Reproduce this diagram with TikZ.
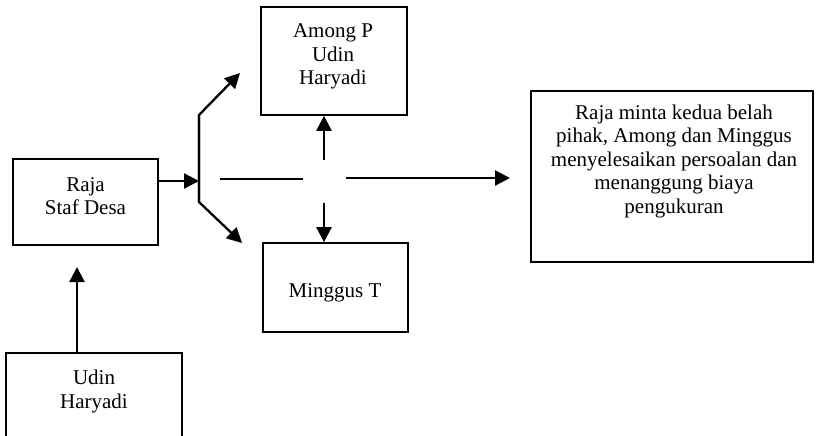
\documentclass[tikz,border=0pt]{standalone}
\usepackage{fontspec}
\setmainfont{Liberation Serif}
\usetikzlibrary{arrows.meta}
\begin{document}
\begin{tikzpicture}[x=1pt,y=-1pt]
\tikzset{
  box/.style={draw, line width=1.6pt, inner sep=0pt},
  % anchored on the baseline of the last line
  txt/.style={align=center, anchor=base, inner sep=0pt,
    font=\fontsize{21}{23.5}\selectfont},
  arr/.style={line width=2.3pt, line join=miter,
    -{Triangle[length=15pt,width=15pt]}},
  ln/.style={line width=2.3pt},
}
\useasboundingbox (0,0) rectangle (816,436);
\clip (0,0) rectangle (816,436);

% boxes
\node[box, minimum width=145pt, minimum height=86pt]  (raja)    at (85.5,202)   {};
\node[box, minimum width=176pt, minimum height=100pt] (udin)    at (94,403)     {};
\node[box, minimum width=146pt, minimum height=108pt] (among)   at (334,61)     {};
\node[box, minimum width=145pt, minimum height=89pt]  (minggus) at (335.5,287.5) {};
\node[box, minimum width=282pt, minimum height=171pt] (hasil)   at (672,176.5)  {};

% box texts
\node[txt] (rajaT)    at (85.5,214.5) {Raja\\Staf Desa};
\node[txt] (udinT)    at (94,408)     {Udin\\Haryadi};
\node[txt] (amongT)   at (333,84.5)   {Among P\\Udin\\Haryadi};
\node[txt] (minggusT) at (335,297.5)  {Minggus T};
\node[txt] (hasilT)   at (674,213)    {Raja minta kedua belah\\pihak, Among dan Minggus\\menyelesaikan persoalan dan\\menanggung biaya\\pengukuran};

% junction points
\coordinate (jn)   at (199,181);
\coordinate (bt)   at (199,115);
\coordinate (bb)   at (199,202);
\coordinate (tipA) at (240,73);
\coordinate (tipB) at (242,243);
\coordinate (h1)   at (220,179);
\coordinate (h2)   at (303,179);
\coordinate (h3)   at (346,178);
\coordinate (tipC) at (510,178);
\coordinate (u0)   at (324,160);
\coordinate (d0)   at (324,203);
\coordinate (tipD) at (77,267);

% connectors
\draw[arr] (raja.east |- jn) -- (jn);
\draw[arr] (bb) -- (bt) -- (tipA);
\draw[arr] (bt) -- (bb) -- (tipB);
\draw[ln]  (h1) -- (h2);
\draw[arr] (h3) -- (tipC);
\draw[arr] (u0) -- (among.south -| u0);
\draw[arr] (d0) -- (minggus.north -| d0);
\draw[arr] (udin.north -| tipD) -- (tipD);
\end{tikzpicture}
\end{document}
